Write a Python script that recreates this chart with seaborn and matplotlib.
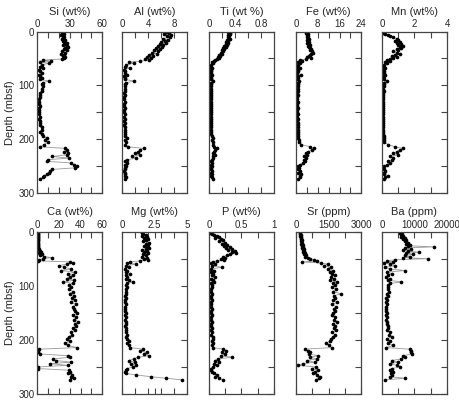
import numpy as np
import matplotlib
matplotlib.use("Agg")
import matplotlib.pyplot as plt
import seaborn as sns

# sample depths (mbsf), shared by all elements
depth = [1, 3, 5, 7, 9, 11, 13, 15, 17, 19, 21, 23, 25, 27, 29, 31, 33, 35, 37, 39,
         41, 43, 45, 47, 49, 51, 53, 55, 57, 59,
         62, 65, 68, 71, 74, 77, 80, 83, 86, 89, 92, 95, 98,
         102, 106, 110, 114, 118, 122, 126, 130, 134, 138, 142, 146, 150, 154, 158,
         162, 166, 170, 174, 178, 182, 186, 190, 194, 198, 202, 206, 210, 214,
         217, 220, 223, 226, 229, 232, 235, 238, 241, 244, 247, 250, 253, 256, 259,
         262, 265, 268, 271, 274]

si = [24, 23, 25, 22, 24, 25, 23, 26, 24, 25, 27, 26, 24, 27, 28, 26, 25, 27, 23, 26,
      22, 25, 24, 26, 25, 23, 5, 13, 3, 11,
      4, 3, 5, 2, 3, 4, 2, 3, 4, 3, 11, 5, 4,
      5, 4, 4, 3, 3, 3, 2, 2, 2, 3, 2, 2, 2, 2, 3, 2, 3, 3, 3, 4, 4, 3, 4, 5, 9, 7, 10, 6, 3,
      26, 27, 25, 28, 27, 14, 29, 10, 9, 31, 34, 37, 35, 14, 12, 11, 9, 6, 5, 3]
al = [6.8, 7.2, 6.5, 7.5, 6.9, 7.3, 6.2, 7.0, 6.6, 6.0, 6.8, 5.8, 6.3, 5.5, 6.1, 5.2, 5.8, 4.9, 5.5, 4.6,
      5.3, 4.2, 4.8, 3.8, 4.5, 3.5, 4.2, 2.8, 1.0, 1.8,
      0.6, 0.4, 1.2, 0.3, 0.5, 0.4, 0.8, 0.3, 0.5, 0.4, 1.9, 0.6, 0.5,
      0.5, 0.4, 0.5, 0.3, 0.4, 0.3, 0.3, 0.4, 0.3, 0.3, 0.4, 0.3, 0.3, 0.4, 0.3, 0.4, 0.3, 0.4, 0.3,
      0.4, 0.5, 0.4, 0.4, 0.5, 0.7, 0.5, 0.6, 0.5, 0.9,
      3.3, 2.8, 2.4, 2.0, 2.7, 1.5, 2.2, 0.8, 0.5, 0.7, 0.5, 0.6, 0.4, 0.5, 0.3, 0.4, 0.5, 0.4, 0.6, 0.5]
ti = [0.30, 0.33, 0.32, 0.29, 0.31, 0.30, 0.32, 0.28, 0.30, 0.27, 0.29, 0.26, 0.28, 0.24, 0.26, 0.22,
      0.24, 0.20, 0.22, 0.18, 0.20, 0.16, 0.17, 0.14, 0.15, 0.12, 0.10, 0.08, 0.05, 0.07,
      0.04, 0.03, 0.05, 0.03, 0.04, 0.03, 0.05, 0.03, 0.04, 0.03, 0.06, 0.04, 0.03,
      0.04, 0.03, 0.04, 0.03, 0.03, 0.04, 0.03, 0.03, 0.04, 0.03, 0.03, 0.04, 0.03, 0.03, 0.04, 0.03,
      0.04, 0.03, 0.04, 0.04, 0.03, 0.04, 0.04, 0.05, 0.06, 0.05, 0.06, 0.07, 0.08,
      0.12, 0.10, 0.08, 0.07, 0.09, 0.06, 0.07, 0.05, 0.04, 0.05, 0.04, 0.05, 0.04, 0.04, 0.05, 0.04,
      0.05, 0.04, 0.05, 0.06]
fe = [4.2, 3.8, 4.5, 4.0, 4.3, 3.9, 4.6, 4.1, 4.4, 4.8, 4.2, 4.6, 5.0, 4.5, 4.9, 5.3, 5.6, 5.0, 5.8, 6.2,
      5.4, 5.0, 4.6, 4.2, 5.5, 3.8, 1.5, 2.2, 0.8, 1.6,
      0.8, 0.5, 1.5, 0.6, 0.9, 0.5, 1.8, 0.7, 0.6, 0.5, 1.2, 0.6, 0.8,
      0.7, 0.6, 0.6, 0.5, 0.6, 0.5, 0.5, 0.6, 0.5, 0.5, 0.6, 0.5, 0.5, 0.6, 0.5, 0.6, 0.5, 0.6, 0.6,
      0.7, 0.6, 0.7, 0.8, 0.9, 0.6, 1.0, 1.0, 2.0, 5.3,
      6.5, 5.8, 4.5, 3.8, 4.2, 3.0, 3.5, 2.8, 3.2, 2.5, 1.5, 0.8, 1.2, 0.7, 1.5, 0.9, 2.0, 1.3, 1.6, 0.6]
mn = [0.1, 0.05, 0.2, 0.35, 0.5, 0.7, 0.9, 1.0, 0.8, 1.1, 0.9, 1.2, 1.0, 1.3, 1.1, 1.2, 0.9, 1.0, 0.7, 0.9,
      1.1, 0.8, 0.6, 0.9, 0.7, 0.5, 0.3, 0.5, 0.2, 0.3,
      0.15, 0.1, 0.2, 0.08, 0.12, 0.1, 0.2, 0.1, 0.08, 0.1, 0.3, 0.12, 0.1,
      0.1, 0.08, 0.1, 0.08, 0.06, 0.08, 0.07, 0.06, 0.07, 0.06, 0.06, 0.07, 0.06, 0.06, 0.07, 0.06,
      0.07, 0.06, 0.07, 0.08, 0.07, 0.08, 0.08, 0.1, 0.1, 0.12, 0.15, 0.4, 0.8,
      1.3, 1.1, 0.9, 0.7, 1.0, 0.5, 0.7, 0.6, 0.4, 0.5, 0.3, 0.15, 0.05, 0.1, 0.2, 0.1, 0.15, 0.35, 0.2, 0.1]
ca = [0.5, 0.3, 0.6, 0.4, 0.8, 0.5, 0.7, 0.4, 0.9, 0.6, 0.8, 1.0, 0.7, 1.2, 0.9, 1.5, 1.8, 2.5, 3.5, 2.0,
      4.5, 3.0, 6.0, 14.0, 5.0, 2.0, 1.0, 30.0, 33.0, 27.0,
      20, 25, 31, 22, 35, 28, 33, 30, 27, 34, 24, 33, 29,
      31, 29, 33, 30, 34, 32, 35, 31, 36, 33, 34, 35, 37, 33, 36, 34, 38, 35, 36, 33, 35, 31, 32, 29,
      27, 30, 26, 28, 37,
      2, 1, 1, 3, 28, 30, 15, 17, 31, 12, 28, 0.5, 1, 29, 30, 28, 32, 31, 34, 30]
mg = [1.5, 1.6, 1.8, 1.5, 1.9, 1.7, 2.0, 1.8, 1.6, 2.1, 1.8, 2.0, 1.7, 1.9, 2.1, 1.8, 1.5, 1.9, 1.7, 2.0,
      1.6, 1.8, 1.5, 1.9, 1.7, 2.0, 1.4, 0.6, 0.4, 1.1,
      0.3, 0.5, 0.2, 0.4, 0.3, 0.6, 0.3, 0.4, 0.3, 0.5, 0.8, 0.4, 0.3,
      0.4, 0.3, 0.3, 0.3, 0.2, 0.3, 0.2, 0.2, 0.3, 0.2, 0.2, 0.2, 0.3, 0.2, 0.3, 0.2, 0.3, 0.3, 0.2,
      0.3, 0.3, 0.3, 0.4, 0.3, 0.4, 0.5, 0.4, 0.5, 0.6,
      1.6, 1.4, 1.9, 1.7, 2.1, 1.2, 0.9, 0.5, 1.0, 0.7, 1.1, 0.8, 0.4, 0.3, 0.2, 0.3, 1.1, 2.2, 3.4, 4.6]
p = [0.02, 0.05, 0.08, 0.12, 0.15, 0.10, 0.18, 0.22, 0.16, 0.25, 0.20, 0.28, 0.24, 0.32, 0.27, 0.35,
     0.30, 0.40, 0.36, 0.42, 0.33, 0.28, 0.22, 0.25, 0.19, 0.24, 0.12, 0.06, 0.03, 0.09,
     0.05, 0.20, 0.04, 0.08, 0.03, 0.06, 0.05, 0.09, 0.04, 0.06, 0.08, 0.04, 0.05,
     0.05, 0.04, 0.03, 0.05, 0.04, 0.03, 0.05, 0.04, 0.03, 0.04, 0.05, 0.03, 0.04, 0.05, 0.03, 0.04,
     0.05, 0.04, 0.03, 0.05, 0.04, 0.05, 0.04, 0.06, 0.07, 0.05, 0.06, 0.05, 0.06,
     0.22, 0.26, 0.20, 0.25, 0.18, 0.36, 0.14, 0.10, 0.16, 0.08, 0.13, 0.06, 0.04, 0.03, 0.05, 0.08,
     0.12, 0.10, 0.15, 0.22]
sr = [180, 200, 220, 190, 240, 210, 230, 260, 240, 280, 250, 300, 270, 320, 290, 350, 310, 380, 340, 420,
      360, 480, 400, 550, 650, 820, 960, 280, 1150, 1450,
      1300, 1600, 1450, 1700, 1550, 1650, 1800, 1600, 1750, 1550, 1900, 1700, 1800,
      1650, 1850, 1700, 2050, 1750, 1800, 1700, 1900, 1650, 1850, 1750, 1800, 1700, 1650, 1800, 1750,
      1900, 1700, 1800, 1750, 1850, 1650, 1800, 1700, 1600, 1550, 1400, 1500, 1650,
      400, 550, 650, 600, 1000, 650, 950, 500, 850, 300, 100, 900, 750, 1000, 850, 800, 950, 1100, 1050, 900]
ba = [5500, 6200, 5800, 6500, 6000, 7000, 6500, 7500, 7000, 8000, 7500, 8500, 8000, 16000, 7000, 9000,
      6500, 8000, 11500, 7500, 9500, 7000, 8500, 6500, 14000, 4000, 1500, 3500, 800, 2500,
      4000, 1000, 2500, 7000, 1500, 3000, 2000, 1200, 2500, 1800, 6000, 2500, 2000,
      2000, 1800, 2200, 1500, 1800, 1300, 1600, 1200, 1500, 1300, 1400, 1200, 1500, 1300, 1600, 1400,
      1700, 1500, 1800, 2000, 1700, 2500, 2200, 3000, 1500, 2500, 1800, 3500, 1200,
      8500, 9000, 8800, 9200, 6500, 7000, 6000, 3000, 5000, 2500, 4500, 5500, 3000, 2500, 3500, 2800,
      3200, 2500, 7000, 1000]

# (title, values, xmax, labelled ticks, tick labels, minor step)
panels = [
    ("Si (wt%)", si, 60, [0, 30, 60], ["0", "30", "60"], 10),
    ("Al (wt%)", al, 10, [0, 4, 8], ["0", "4", "8"], 2),
    ("Ti (wt %)", ti, 1.0, [0, 0.4, 0.8], ["0", "0.4", "0.8"], 0.2),
    ("Fe (wt%)", fe, 24, [0, 8, 16, 24], ["0", "8", "16", "24"], 4),
    ("Mn (wt%)", mn, 4, [0, 2, 4], ["0", "2", "4"], 1),
    ("Ca (wt%)", ca, 60, [0, 20, 40, 60], ["0", "20", "40", "60"], 10),
    ("Mg (wt%)", mg, 5, [0, 2.5, 5], ["0", "2.5", "5"], 1),
    ("P (wt%)", p, 1.0, [0, 0.5, 1.0], ["0", "0.5", "1"], 0.25),
    ("Sr (ppm)", sr, 3000, [0, 1500, 3000], ["0", "1500", "3000"], 750),
    ("Ba (ppm)", ba, 20000, [0, 10000, 20000], ["0", "10000", "20000"], 5000),
]

sns.set_style("ticks")
plt.rcParams["font.family"] = ["Liberation Sans", "DejaVu Sans"]

fig = plt.figure(figsize=(4.59, 4.04), dpi=100)
lefts = [0.081, 0.266, 0.455, 0.645, 0.832]
bottoms = [0.522, 0.025]
spine_col = "#444444"

for i, (title, vals, xmax, ticks, labels, step) in enumerate(panels):
    row, col = divmod(i, 5)
    ax = fig.add_axes([lefts[col], bottoms[row], 0.142, 0.400])
    sns.lineplot(x=vals, y=depth, sort=False, estimator=None, color="#9a9a9a",
                 linewidth=0.6, ax=ax, zorder=1)
    sns.scatterplot(x=vals, y=depth, color="black", s=7, linewidth=0, ax=ax, zorder=2)
    ax.set_xlim(0, xmax)
    ax.set_ylim(300, 0)
    ax.set_xticks(ticks)
    ax.set_xticklabels(labels)
    ax.set_xticks(np.arange(step, xmax - step / 2, step), minor=True)
    ax.set_yticks([0, 100, 200, 300])
    ax.set_yticks([50, 150, 250], minor=True)
    ax.xaxis.tick_top()
    ax.tick_params(which="both", direction="in", top=True, bottom=True, left=False,
                   right=True, labeltop=True, labelbottom=False, length=4,
                   width=0.8, color=spine_col, labelsize=7, pad=2)
    if col == 0:
        ax.set_ylabel("Depth (mbsf)", fontsize=8, labelpad=2)
    else:
        ax.tick_params(labelleft=False)
        ax.set_ylabel("")
    ax.set_xlabel("")
    ax.set_title(title, fontsize=8, pad=3)
    for s in ax.spines.values():
        s.set_color(spine_col)
        s.set_linewidth(0.9)

fig.savefig("out.png", dpi=100)
